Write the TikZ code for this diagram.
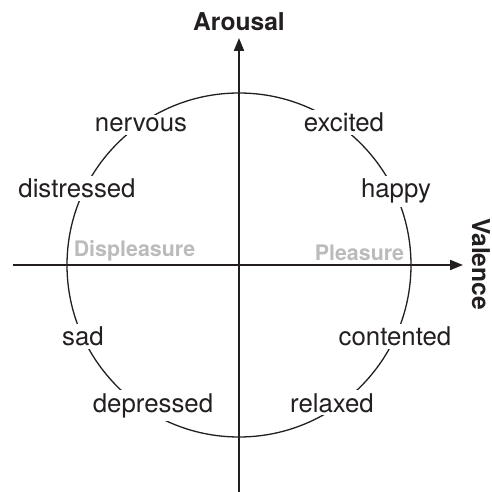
\documentclass[tikz,border=0pt]{standalone}
\usepackage{fontspec}
\setmainfont{TeX Gyre Heros}
\usepackage{tikz}
\usetikzlibrary{arrows.meta}
\definecolor{ink}{HTML}{231F20}
\definecolor{softgray}{HTML}{BBBBBB}

\begin{document}
\begin{tikzpicture}[x=0.5pt, y=0.5pt,
    emo/.style={anchor=base, fill=white, inner sep=1.5pt, text=ink,
                font=\fontsize{12.9}{14}\selectfont},
    axislbl/.style={anchor=base, inner sep=0pt, text=ink,
                font=\fontsize{12.3}{14}\selectfont\bfseries},
    pole/.style={anchor=base, inner sep=0pt, text=softgray,
                font=\fontsize{10.7}{12}\selectfont\bfseries}]
  \useasboundingbox (-239,-227) rectangle (253,265);
  % the circle
  \draw[ink, line width=0.65pt] (0,0) circle (172);
  % axes
  \coordinate (west) at (-226,0);
  \coordinate (east) at (224,0);
  \coordinate (south) at (0,-227);
  \coordinate (north) at (0,227);
  \draw[ink, line width=1pt, -{Triangle[length=6.5pt, width=5pt]}] (west) -- (east);
  \draw[ink, line width=1pt, -{Triangle[length=6.5pt, width=5pt]}] (south) -- (north);
  \node[axislbl] (arousal) at (0,234) {Arousal};
  \node[axislbl, rotate=-90] (valence) at (233,1) {Valence};
  \node[pole] (displeasure) at (-104.5,8) {Displeasure};
  \node[pole] (pleasure) at (120.5,4) {Pleasure};
  % emotions round the circle
  \node[emo] (nervous) at (-98,133) {nervous};
  \node[emo] (excited) at (105,133) {excited};
  \node[emo] (distressed) at (-162,67) {distressed};
  \node[emo] (happy) at (157,67) {happy};
  \node[emo] (sad) at (-156,-81) {sad};
  \node[emo] (contented) at (156,-81) {contented};
  \node[emo] (depressed) at (-86,-147) {depressed};
  \node[emo] (relaxed) at (93,-147) {relaxed};
\end{tikzpicture}
\end{document}
